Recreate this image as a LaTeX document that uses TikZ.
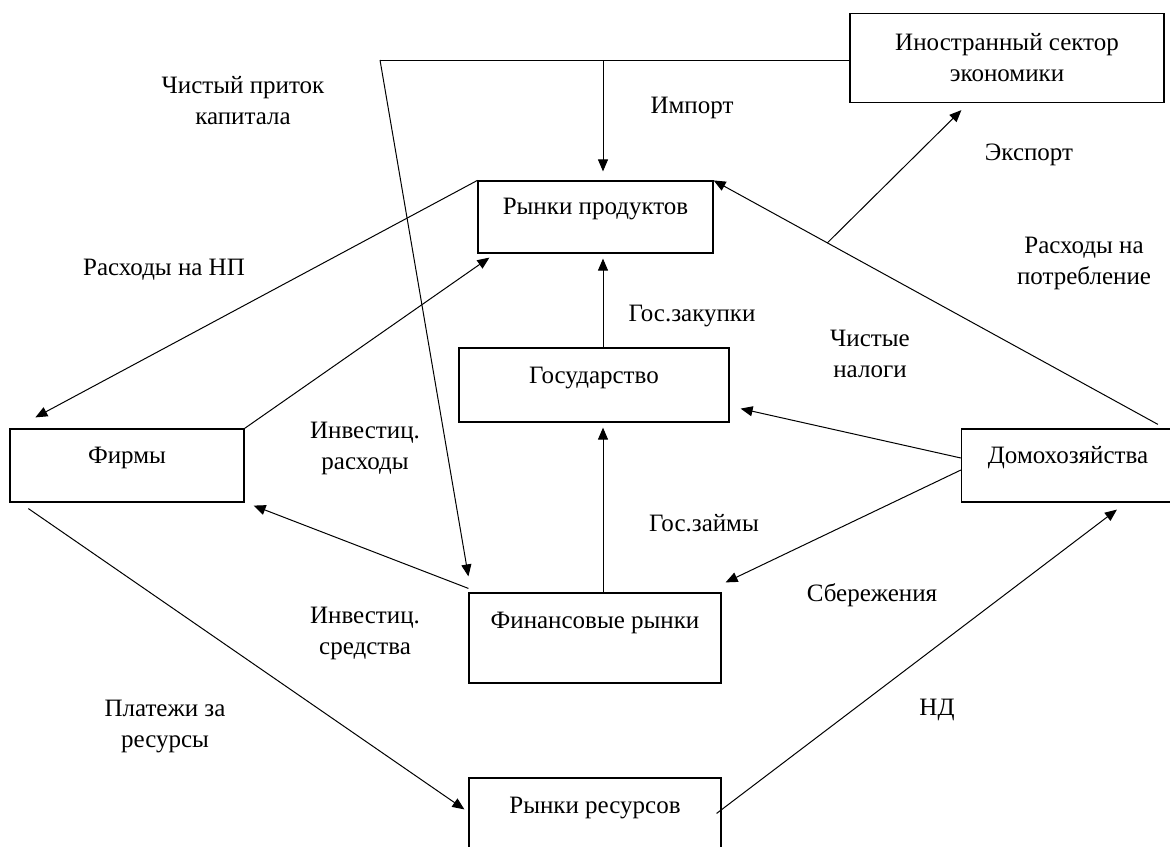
\documentclass[tikz,border=0pt]{standalone}
\usepackage{fontspec}
\setmainfont{Liberation Serif}
\usetikzlibrary{arrows.meta,calc}

\begin{document}
\begin{tikzpicture}[x=0.5pt,y=-0.5pt,
	box/.style={draw, line width=0.6pt, inner sep=0pt, font=\fontsize{12.5}{15.5}\selectfont},
	lbl/.style={align=center, inner sep=0pt, font=\fontsize{12.5}{15.5}\selectfont},
	flow/.style={line width=0.5pt, -{Triangle[length=6pt,width=5pt]}}]
	\path[use as bounding box, clip] (0,0) rectangle (1170,846);
	% boxes
	\node[box, align=center, minimum width=157pt, minimum height=44.5pt] (foreign) at (1007,58) {Иностранный сектор\\экономики};
	\node[box, minimum width=117.5pt, minimum height=36pt, text height=8pt, text depth=11pt] (prod) at (595.5,217) {Рынки продуктов};
	\node[box, minimum width=135pt, minimum height=37pt, text height=8pt, text depth=10pt] (gov) at (594,385) {Государство};
	\node[box, minimum width=117pt, minimum height=36.5pt, text height=8pt, text depth=10.5pt] (firms) at (127,465.5) {Фирмы};
	\node[box, minimum width=106.5pt, minimum height=36.5pt, text height=8pt, text depth=10.5pt] (house) at (1068,465.5) {Домохозяйства};
	\node[box, minimum width=126pt, minimum height=45pt, text height=8pt, text depth=18pt] (fin) at (595,638) {Финансовые рынки};
	\node[box, minimum width=126pt, minimum height=45pt, text height=8pt, text depth=18pt] (res) at (595,823) {Рынки ресурсов};
	% labels
	\node[lbl] (lcap) at (243,101) {Чистый приток\\капитала};
	\node[lbl] (limp) at (692,108) {Импорт};
	\node[lbl] (lexp) at (1029,155) {Экспорт};
	\node[lbl] (lcons) at (1084,263) {Расходы на\\потребление};
	\node[lbl] (lnp) at (164,270) {Расходы на НП};
	\node[lbl] (lpurch) at (692,316) {Гос.закупки};
	\node[lbl] (ltax) at (870,354) {Чистые\\налоги};
	\node[lbl] (linvexp) at (365,448) {Инвестиц.\\расходы};
	\node[lbl] (lloan) at (704,523) {Гос.займы};
	\node[lbl] (lsav) at (872,595) {Сбережения};
	\node[lbl] (linvfund) at (365,633) {Инвестиц.\\средства};
	\node[lbl] (lpay) at (165,726) {Платежи за\\ресурсы};
	\node[lbl] (lnd) at (937,710) {НД};
	% helper points
	\coordinate (tl) at (380,60);
	\coordinate (axis) at (603,0);
	\coordinate (hc) at ([xshift=98.5pt,yshift=2pt]house.north west);
	% flows
	\draw[line width=0.5pt] ([yshift=-1pt]foreign.west) -- (tl);
	\draw[flow] (tl -| axis) -- ([yshift=4.5pt]prod.north -| axis);
	\draw[flow] (tl) -- ([yshift=8pt]fin.north west);
	\draw[flow] (hc) -- (prod.north east);
	\draw[flow] ($(hc)!0.744!(prod.north east)$) -- ([xshift=56pt,yshift=-3.5pt]foreign.south west);
	\draw[flow] (prod.north west) -- ([xshift=13pt,yshift=5.5pt]firms.north west);
	\draw[flow] (firms.north east) -- ([xshift=6pt,yshift=-2pt]prod.south west);
	\draw[flow] (gov.north -| axis) -- ([yshift=-2.5pt]prod.south -| axis);
	\draw[flow] ([yshift=3.75pt]house.west) -- ([xshift=5.5pt,yshift=7pt]gov.south east);
	\draw[flow] ([yshift=-2.25pt]house.west) -- ([xshift=2pt,yshift=5pt]fin.north east);
	\draw[flow] ([xshift=-2.5pt,yshift=-18pt]res.north east) -- ([xshift=78pt,yshift=-3.5pt]house.south west);
	\draw[flow] (fin.north -| axis) -- ([yshift=-2.5pt]gov.south -| axis);
	\draw[flow] ([yshift=2pt]fin.north west) -- ([xshift=4.5pt,yshift=-1.5pt]firms.south east);
	\draw[flow] ([xshift=9.5pt,yshift=-3pt]firms.south west) -- ([xshift=-2pt,yshift=-16pt]res.north west);
\end{tikzpicture}
\end{document}
